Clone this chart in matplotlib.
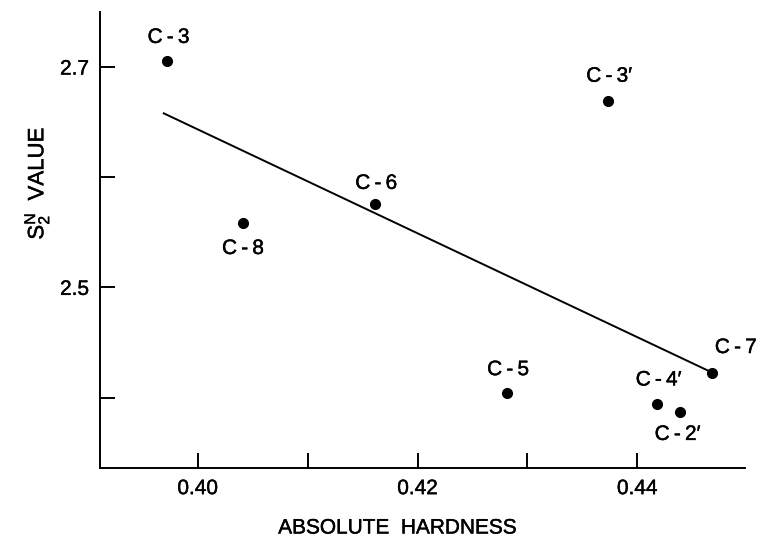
import matplotlib
matplotlib.use('Agg')
import matplotlib.pyplot as plt
import matplotlib.patheffects as pe

# data
labels = ['C\u2009-\u20093', 'C\u2009-\u20098', 'C\u2009-\u20096', 'C\u2009-\u20093\u2032',
          'C\u2009-\u20095', 'C\u2009-\u20094\u2032', 'C\u2009-\u20092\u2032', 'C\u2009-\u20097']
hardness = [0.3972, 0.4041, 0.4161, 0.4373, 0.4281, 0.4418, 0.4439, 0.4468]
s2n = [2.7055, 2.558, 2.5755, 2.669, 2.4045, 2.3945, 2.3873, 2.4227]

# regression line end points
fit_x = [0.3969, 0.4468]
fit_y = [2.658, 2.4227]

# label offsets from each point (points)
label_dx = [1, 0, 1, 1, 1, 1, -2, 2]
label_dy = [17, -18, 15, 18, 16.5, 17, -16.5, 18]
label_ha = ['center'] * 7 + ['left']

plt.rcParams['font.family'] = ['Liberation Sans', 'DejaVu Sans']
plt.rcParams['mathtext.fontset'] = 'custom'
plt.rcParams['mathtext.rm'] = 'Liberation Sans'
plt.rcParams['mathtext.it'] = 'Liberation Sans'

# scanned lettering is a touch heavier than the regular face
heavy = [pe.withStroke(linewidth=0.3, foreground='black')]

fig = plt.figure(figsize=(7.59, 5.38), dpi=100)
ax = fig.add_axes([0.1318, 0.1301, 0.8498, 0.8476])

ax.plot(fit_x, fit_y, color='black', linewidth=1.4)
ax.plot(hardness, s2n, 'o', color='black', markersize=7)

for name, x, y, dx, dy, ha in zip(labels, hardness, s2n, label_dx, label_dy, label_ha):
    ax.annotate(name, (x, y), xytext=(dx, dy), textcoords='offset points',
                ha=ha, va='center', fontsize=15, annotation_clip=False,
                path_effects=heavy)

ax.set_xlim(0.3911, 0.4498)
ax.set_ylim(2.336, 2.75)

ax.set_xticks([0.40, 0.41, 0.42, 0.43, 0.44])
ax.set_xticklabels(['0.40', '', '0.42', '', '0.44'])
ax.set_yticks([2.4, 2.5, 2.6, 2.7])
ax.set_yticklabels(['', '2.5', '', '2.7'])

ax.tick_params(direction='in', length=11, width=1.4, labelsize=15, pad=8)
for t in ax.get_xticklabels() + ax.get_yticklabels():
    t.set_path_effects(heavy)
ax.spines['top'].set_visible(False)
ax.spines['right'].set_visible(False)
ax.spines['left'].set_linewidth(1.4)
ax.spines['bottom'].set_linewidth(1.4)

fig.text(398 / 759, 1 - 528 / 538, 'ABSOLUTE  HARDNESS', ha='center', va='center',
         fontsize=15, path_effects=heavy)
fig.text(37 / 759, 1 - 183 / 538, r'$\mathregular{S_2^N}$  VALUE', rotation=90,
         ha='center', va='center', fontsize=16, path_effects=heavy)

fig.savefig('out.png', dpi=100)
